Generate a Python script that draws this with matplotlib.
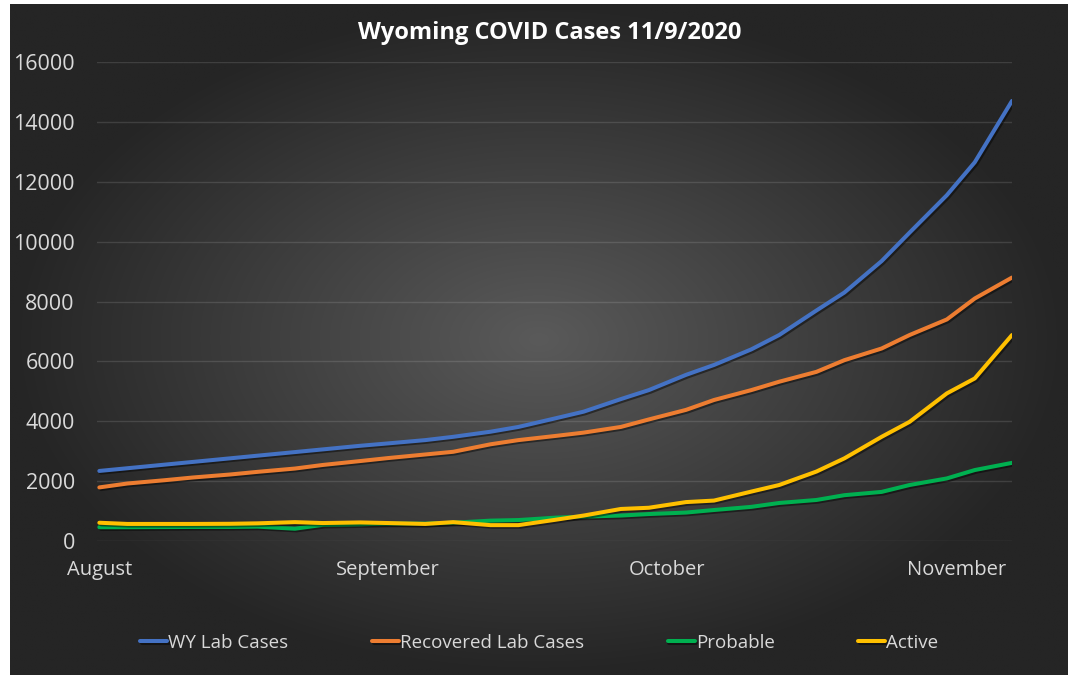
import matplotlib
matplotlib.use("Agg")
import matplotlib.pyplot as plt
import matplotlib.dates as mdates
import matplotlib.patheffects as pe
import numpy as np
import pandas as pd

# data (reports roughly twice a week)
dates = ["2020-08-01", "2020-08-04", "2020-08-08", "2020-08-11", "2020-08-15",
         "2020-08-18", "2020-08-22", "2020-08-25", "2020-08-29", "2020-09-01",
         "2020-09-05", "2020-09-08", "2020-09-12", "2020-09-15", "2020-09-19",
         "2020-09-22", "2020-09-26", "2020-09-29", "2020-10-03", "2020-10-06",
         "2020-10-10", "2020-10-13", "2020-10-17", "2020-10-20", "2020-10-24",
         "2020-10-27", "2020-10-31", "2020-11-03", "2020-11-07"]

wy_lab = [2340, 2430, 2550, 2640, 2760, 2850, 2970, 3060, 3180, 3260,
          3370, 3480, 3650, 3810, 4100, 4320, 4740, 5040, 5550, 5880,
          6400, 6880, 7700, 8300, 9350, 10300, 11550, 12650, 14700]
recovered = [1790, 1920, 2030, 2120, 2220, 2310, 2420, 2540, 2670, 2770,
             2890, 2980, 3230, 3370, 3510, 3620, 3810, 4060, 4380, 4710,
             5040, 5320, 5650, 6040, 6430, 6880, 7400, 8100, 8800]
probable = [460, 460, 465, 470, 470, 480, 410, 540, 560, 580,
            580, 610, 680, 700, 780, 815, 850, 900, 950, 1035,
            1140, 1270, 1370, 1530, 1640, 1870, 2090, 2370, 2610]
active = [610, 570, 570, 570, 575, 590, 630, 600, 620, 600,
          570, 630, 530, 530, 710, 850, 1070, 1110, 1300, 1350,
          1650, 1870, 2320, 2760, 3480, 3980, 4930, 5430, 6880]

series_names = ["WY Lab Cases", "Recovered Lab Cases", "Probable", "Active"]
series_colors = ["#4472C4", "#ED7D31", "#00B050", "#FFC000"]

x = pd.to_datetime(dates)

fig = plt.figure(figsize=[10.7, 6.75], dpi=100)
fig.patch.set_facecolor("white")

# radial grey gradient behind everything
bg = fig.add_axes([10/1070, 0, 1 - 12/1070, 1 - 4/675])
bg.set_axis_off()
gx, gy = np.meshgrid(np.linspace(-1, 1, 400), np.linspace(-1, 1, 300))
r = np.clip(np.sqrt(gx**2 + gy**2), 0, 1)
inner = np.array([0x5a, 0x5a, 0x5a]) / 255
outer = np.array([0x25, 0x25, 0x25]) / 255
img = inner[None, None, :] * (1 - r[..., None]) + outer[None, None, :] * r[..., None]
bg.imshow(img, aspect="auto", extent=[0, 1, 0, 1], interpolation="bilinear")
bg.set_xlim(0, 1)
bg.set_ylim(0, 1)

ax = fig.add_axes([97/1070, 1 - 541/675, (1012 - 97)/1070, (541 - 62)/675])
ax.patch.set_alpha(0)

shadow = [pe.SimpleLineShadow(offset=(1.2, -1.2), alpha=0.45, shadow_color="black"), pe.Normal()]
for vals, name, col in zip([wy_lab, recovered, probable, active], series_names, series_colors):
    ax.plot(x, vals, color=col, linewidth=2.9, label=name, path_effects=shadow,
            solid_capstyle="round", solid_joinstyle="round")

ax.set_ylim(0, 16000)
ax.set_yticks(np.arange(0, 16001, 2000))
ax.set_xlim(x[0] - pd.Timedelta(hours=6), x[-1])
ax.xaxis.set_major_locator(mdates.MonthLocator())
ax.xaxis.set_major_formatter(mdates.DateFormatter("%B"))

ax.grid(axis="y", color="white", alpha=0.12, linewidth=1)
ax.set_axisbelow(True)
for s in ax.spines.values():
    s.set_visible(False)
ax.tick_params(axis="both", length=0, colors="#d9d9d9")
ax.tick_params(axis="y", pad=16, labelsize=15.5)
ax.tick_params(axis="x", pad=14, labelsize=14.5)
for lab in ax.get_xticklabels() + ax.get_yticklabels():
    lab.set_fontfamily("Open Sans")

fig.text(0.514, 1 - 33/675, "Wyoming COVID Cases 11/9/2020", ha="center", va="center",
         color="white", fontsize=17, fontweight="bold", family="Open Sans")

leg = fig.legend(loc="center", bbox_to_anchor=(0.504, 1 - 643/675), ncol=4, frameon=False,
                 handlelength=1.45, handletextpad=0.05, columnspacing=4.45,
                 prop={"family": "Open Sans", "size": 13.5})
for t in leg.get_texts():
    t.set_color("#d9d9d9")

plt.savefig("out.png", dpi=100, facecolor=fig.get_facecolor())
